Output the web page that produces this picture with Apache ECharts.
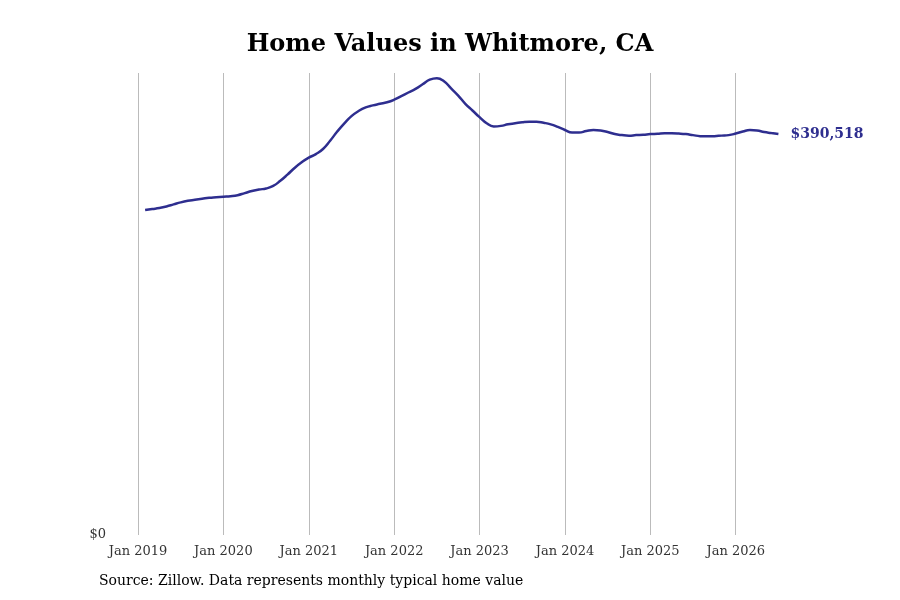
<!DOCTYPE html>
<html><head><meta charset="utf-8">
<script src="https://cdn.jsdelivr.net/npm/echarts@6/dist/echarts.min.js"></script>
<style>body{margin:0}#c{width:900px;height:600px}</style>
</head><body><div id="c"></div>
<script>
// monthly categories Jan 2019 .. Dec 2026
var months = [];
var mnames = ['Jan','Feb','Mar','Apr','May','Jun','Jul','Aug','Sep','Oct','Nov','Dec'];
for (var y = 2019; y <= 2026; y++) for (var m = 0; m < 12; m++) months.push(mnames[m] + ' ' + y);

// typical home value, thousands of dollars, Feb 2019 .. Jul 2026
var values = [
  316.5,317.5,318.5,320,322,324,325.5,326.5,327.5,328.5,329,
  329.5,330,331,333,335,336.5,337.5,340,345,351,357.5,363,
  367.5,371,376,384,393,401,408,413,416.5,418.5,420,421.5,
  424,427.5,431,434.5,439,443.5,445,442,435,428,420,413.5,
  407,401,398,398.5,400,401,402,402.5,402.5,401.5,400,397.5,
  394.5,392,392,393.5,394.5,394,392.5,390.5,389.5,389,389.5,389.8,
  390.5,390.8,391.2,391.2,391,390.5,389.5,388.5,388.3,388.5,389,389.5,
  391,393,394.5,394,392.5,391.5,390.518
];
var series = ['-'].concat(values.map(function (v) { return v * 1000; }));

var font = 'DejaVu Serif';
var chart = echarts.init(document.getElementById('c'));
chart.setOption({
  animation: false,
  title: { text: 'Home Values in Whitmore, CA', left: 'center', top: 28,
    textStyle: { fontFamily: font, fontSize: 24, fontWeight: 'bold', color: '#000' } },
  graphic: [{ type: 'text', left: 99, top: 574,
    style: { text: 'Source: Zillow. Data represents monthly typical home value', font: '14px "DejaVu Serif"', fill: '#000' } }],
  grid: { left: 138, right: 86, top: 73, bottom: 65 },
  xAxis: {
    type: 'category', data: months, boundaryGap: false,
    axisLine: { show: false }, axisTick: { show: false },
    axisLabel: { interval: function (i) { return i % 12 === 0 && i < 96; }, fontFamily: font, fontSize: 13, color: '#333', margin: 10 },
    splitLine: { show: true, interval: function (i) { return i % 12 === 0; }, lineStyle: { color: '#bbb' } }
  },
  yAxis: {
    type: 'value', min: 0, max: 450000, interval: 450000,
    splitLine: { show: false }, axisLine: { show: false }, axisTick: { show: false },
    axisLabel: { formatter: function (v) { return v === 0 ? '$0' : ''; }, fontFamily: font, fontSize: 13, color: '#333', margin: 32 }
  },
  series: [{
    type: 'line', data: series, smooth: true, showSymbol: false,
    lineStyle: { color: '#2e2e8f', width: 2.5 },
    endLabel: { show: true, formatter: '$390,518', color: '#2e2e8f', fontFamily: font, fontWeight: 'bold', fontSize: 14, distance: 12 }
  }]
});
</script></body></html>
